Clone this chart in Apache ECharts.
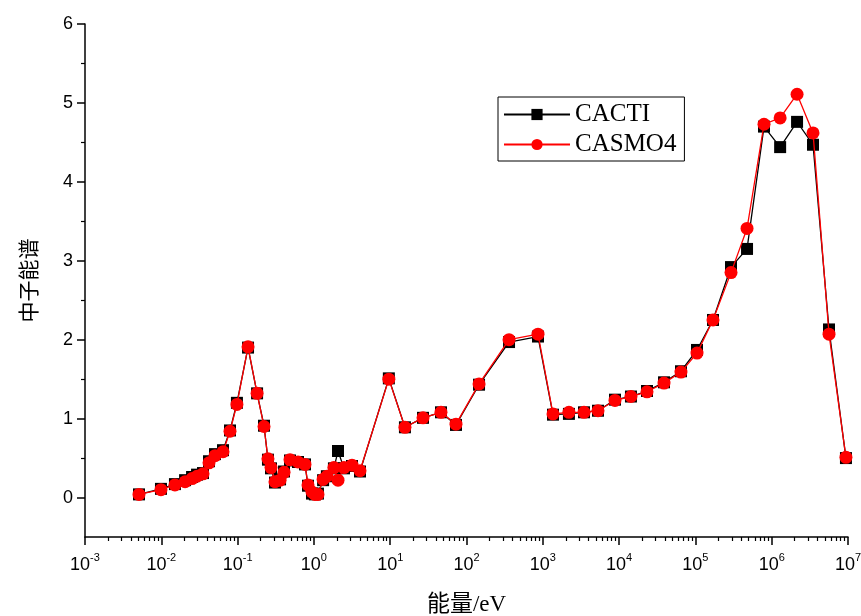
<!DOCTYPE html>
<html>
<head>
<meta charset="utf-8">
<script src="https://cdn.jsdelivr.net/npm/echarts@6/dist/echarts.min.js"></script>
<style>html,body{margin:0;padding:0;background:#fff}#c{width:861px;height:616px}</style>
</head>
<body>
<div id="c"></div>
<script>
const energy = [0.0051,0.0099,0.0151,0.0205,0.0253,0.0294,0.0352,0.0422,0.0506,0.0644,
  0.0795,0.098,0.137,0.180,0.222,0.250,0.274,0.309,0.360,0.406,
  0.486,0.619,0.764,0.837,0.944,1.03,1.13,1.32,1.48,1.83,
  2.07,2.48,3.16,4.02,9.6,15.6,26.9,46.3,72.8,146,
  361,865,1360,2200,3470,5290,8830,14300,23200,38800,
  64700,105000,170000,293000,475000,793000,1.29e6,2.15e6,3.48e6,5.64e6,
  9.4e6];
const cacti = [0.04,0.11,0.17,0.22,0.26,0.29,0.31,0.46,0.55,0.60,
  0.85,1.20,1.90,1.32,0.91,0.48,0.37,0.19,0.23,0.33,
  0.47,0.45,0.42,0.15,0.05,0.04,0.05,0.22,0.27,0.37,
  0.59,0.37,0.40,0.33,1.51,0.89,1.01,1.08,0.92,1.43,
  1.97,2.04,1.05,1.06,1.08,1.10,1.24,1.28,1.35,1.46,
  1.60,1.87,2.25,2.92,3.15,4.70,4.44,4.76,4.47,2.13,
  0.50];
const casmo4 = [0.04,0.10,0.16,0.20,0.24,0.27,0.30,0.44,0.53,0.58,
  0.84,1.18,1.91,1.32,0.90,0.49,0.38,0.20,0.22,0.32,
  0.48,0.45,0.42,0.16,0.07,0.04,0.04,0.23,0.27,0.38,
  0.22,0.38,0.41,0.34,1.50,0.89,1.01,1.08,0.93,1.44,
  2.00,2.07,1.06,1.08,1.08,1.10,1.23,1.28,1.34,1.45,
  1.59,1.83,2.25,2.85,3.41,4.73,4.81,5.11,4.62,2.07,
  0.51];
const xMajor = [1e-3,1e-2,1e-1,1,10,100,1e3,1e4,1e5,1e6,1e7];
const yMajor = [0,1,2,3,4,5,6];
const yMinor = [0.5,1.5,2.5,3.5,4.5,5.5];
const xMinor = [];
for (let e = -3; e < 7; e++) for (let m = 2; m <= 9; m++) xMinor.push(parseFloat((m * Math.pow(10, e)).toPrecision(3)));

const chart = echarts.init(document.getElementById('c'));
const gridLeft = 85, gridRight = 13, gridTop = 24, gridBottom = 79;
const W = 861, H = 616;
const labelFont = 'Liberation Sans, Arial, sans-serif';
chart.setOption({
  animation: false,
  backgroundColor: '#fff',
  grid: {left: gridLeft, right: gridRight, top: gridTop, bottom: gridBottom, containLabel: false, outerBoundsMode: 'none'},
  legend: {
    left: 498, top: 97, orient: 'vertical',
    borderColor: '#000', borderWidth: 1, borderRadius: 0,
    padding: [5, 8, 4, 5], itemGap: 5, itemWidth: 66, itemHeight: 14,
    textStyle: {fontFamily: 'Liberation Serif, Times New Roman, serif', fontSize: 25, color: '#000'},
    data: ['CACTI', 'CASMO4']
  },
  xAxis: [{
    type: 'log', logBase: 10, min: 1e-3, max: 1e7, position: 'bottom',
    name: '能量/eV', nameLocation: 'middle', nameGap: 56,
    nameTextStyle: {fontFamily: 'Liberation Serif, Noto Sans CJK SC, serif', fontSize: 23, color: '#000'},
    axisLine: {show: true, onZero: false, lineStyle: {color: '#000', width: 1.5}},
    axisTick: {show: true, inside: false, length: 8, lineStyle: {color: '#000', width: 1.5}, customValues: xMajor},
    splitLine: {show: false}, minorTick: {show: false}, minorSplitLine: {show: false},
    axisLabel: {
      customValues: xMajor, margin: 15, color: '#000', fontFamily: labelFont, fontSize: 18,
      formatter: v => '{b|10}{s|' + Math.round(Math.log10(v)) + '}',
      rich: {
        b: {fontFamily: labelFont, fontSize: 18, color: '#000', lineHeight: 22, verticalAlign: 'bottom'},
        s: {fontFamily: labelFont, fontSize: 11, color: '#000', lineHeight: 22, verticalAlign: 'top'}
      }
    }
  }, {
    type: 'log', logBase: 10, min: 1e-3, max: 1e7, position: 'top', offset: -(H - gridTop - gridBottom),
    axisLine: {show: false, onZero: false}, splitLine: {show: false},
    axisTick: {show: true, inside: true, length: 4, lineStyle: {color: '#000', width: 1.2}, customValues: xMinor},
    axisLabel: {show: false}
  }],
  yAxis: [{
    type: 'value', min: -0.5, max: 6, position: 'left',
    name: '中子能谱', nameLocation: 'middle', nameGap: 46, nameRotate: 90,
    nameTextStyle: {fontFamily: 'Noto Sans CJK SC, sans-serif', fontSize: 21, color: '#000'},
    axisLine: {show: true, onZero: false, lineStyle: {color: '#000', width: 1.5}},
    axisTick: {show: true, inside: false, length: 8, lineStyle: {color: '#000', width: 1.5}, customValues: yMajor},
    splitLine: {show: false},
    axisLabel: {customValues: yMajor, margin: 12, color: '#000', fontFamily: labelFont, fontSize: 18}
  }, {
    type: 'value', min: -0.5, max: 6, position: 'right', offset: -(W - gridLeft - gridRight),
    axisLine: {show: false, onZero: false}, splitLine: {show: false},
    axisTick: {show: true, inside: true, length: 4, lineStyle: {color: '#000', width: 1.2}, customValues: yMinor},
    axisLabel: {show: false}
  }],
  series: [{
    name: 'CACTI', type: 'line', xAxisIndex: 0, yAxisIndex: 0,
    data: energy.map((e, i) => [e, cacti[i]]),
    symbol: 'rect', symbolSize: 12, showAllSymbol: true,
    lineStyle: {color: '#000', width: 1.3}, itemStyle: {color: '#000'}, z: 2
  }, {
    name: 'CASMO4', type: 'line', xAxisIndex: 0, yAxisIndex: 0,
    data: energy.map((e, i) => [e, casmo4[i]]),
    symbol: 'circle', symbolSize: 13, showAllSymbol: true,
    lineStyle: {color: '#ff0000', width: 1.3}, itemStyle: {color: '#ff0000'}, z: 3
  }]
});
</script>
</body>
</html>
